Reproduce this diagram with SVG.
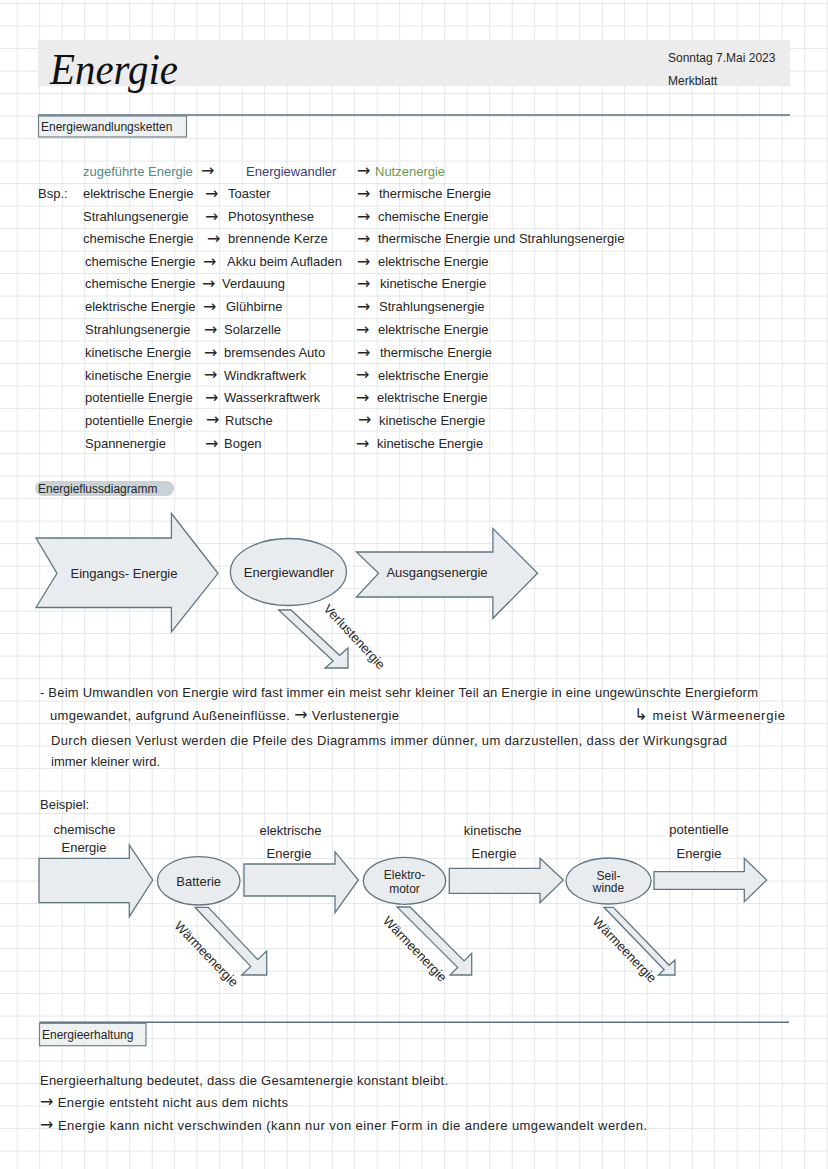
<svg xmlns="http://www.w3.org/2000/svg" width="828" height="1169" viewBox="0 0 828 1169">
<defs>
<pattern id="grid" patternUnits="userSpaceOnUse" x="16.7" y="3.1" width="22.5" height="22.5">
<path d="M0 0.5H22.5M0.5 0V22.5" stroke="#e4e6e8" stroke-width="1" fill="none"/>
</pattern>
<style>
.t{font-family:"Liberation Sans","DejaVu Sans",sans-serif;font-size:13px;fill:#262626}
.s{font-size:12px}
.c{text-anchor:middle}
.a{font-family:"DejaVu Sans",sans-serif;font-size:16px}
.shape{fill:#e9ecee;stroke:#5f7784;stroke-width:1.3;stroke-linejoin:miter}
.box{fill:#eef1f2;stroke:#6f818b;stroke-width:1.2}
.rule{stroke:#5b707b;stroke-width:1.5}
.teal{fill:#4d8c89}
.purple{fill:#3d4079}
.green{fill:#6b9a52}
</style>
</defs>
<rect width="828" height="1169" fill="#ffffff"/>
<rect width="828" height="1169" fill="url(#grid)"/>

<g id="header">
<rect x="38" y="40" width="752" height="46" fill="#ececec"/>
<text x="50" y="84" style="font-family:'Liberation Serif',serif;font-style:italic;font-size:44px;fill:#111" textLength="128" lengthAdjust="spacingAndGlyphs">Energie</text>
<text class="t s" x="668" y="62">Sonntag 7.Mai 2023</text>
<text class="t s" x="668" y="85">Merkblatt</text>
<line class="rule" x1="38" y1="115" x2="790" y2="115"/>
</g>

<g id="section-wandlungsketten">
<rect class="box" x="38.5" y="116" width="148" height="21"/>
<text class="t s" x="41" y="131">Energiewandlungsketten</text>
</g>

<g id="table">
<text class="t teal" x="83" y="175.5">zugeführte Energie</text>
<text class="t a" x="201" y="176">→</text>
<text class="t purple" x="246" y="175.5">Energiewandler</text>
<text class="t a" x="357" y="176">→</text>
<text class="t green" x="375" y="175.5">Nutzenergie</text>

<text class="t" x="38" y="198">Bsp.:</text>
<text class="t" x="83" y="198">elektrische Energie</text><text class="t a" x="205" y="198.5">→</text><text class="t" x="228" y="198">Toaster</text><text class="t a" x="357" y="198.5">→</text><text class="t" x="379" y="198">thermische Energie</text>
<text class="t" x="83" y="221">Strahlungsenergie</text><text class="t a" x="205" y="221.5">→</text><text class="t" x="228" y="221">Photosynthese</text><text class="t a" x="357" y="221.5">→</text><text class="t" x="378" y="221">chemische Energie</text>
<text class="t" x="83" y="243">chemische Energie</text><text class="t a" x="207" y="243.5">→</text><text class="t" x="228" y="243">brennende Kerze</text><text class="t a" x="357" y="243.5">→</text><text class="t" x="378" y="243">thermische Energie und Strahlungsenergie</text>
<text class="t" x="85" y="266">chemische Energie</text><text class="t a" x="203" y="266.5">→</text><text class="t" x="227" y="266">Akku beim Aufladen</text><text class="t a" x="357" y="266.5">→</text><text class="t" x="378" y="266">elektrische Energie</text>
<text class="t" x="85" y="288">chemische Energie</text><text class="t a" x="202" y="288.5">→</text><text class="t" x="222" y="288">Verdauung</text><text class="t a" x="357" y="288.5">→</text><text class="t" x="380" y="288">kinetische Energie</text>
<text class="t" x="85" y="311">elektrische Energie</text><text class="t a" x="203" y="311.5">→</text><text class="t" x="226" y="311">Glühbirne</text><text class="t a" x="357" y="311.5">→</text><text class="t" x="379" y="311">Strahlungsenergie</text>
<text class="t" x="85" y="334">Strahlungsenergie</text><text class="t a" x="204" y="334.5">→</text><text class="t" x="224" y="334">Solarzelle</text><text class="t a" x="356" y="334.5">→</text><text class="t" x="378" y="334">elektrische Energie</text>
<text class="t" x="85" y="357">kinetische Energie</text><text class="t a" x="204" y="357.5">→</text><text class="t" x="224" y="357">bremsendes Auto</text><text class="t a" x="357" y="357.5">→</text><text class="t" x="380" y="357">thermische Energie</text>
<text class="t" x="85" y="379.5">kinetische Energie</text><text class="t a" x="204" y="380">→</text><text class="t" x="224" y="379.5">Windkraftwerk</text><text class="t a" x="356" y="380">→</text><text class="t" x="378" y="379.5">elektrische Energie</text>
<text class="t" x="85" y="402">potentielle Energie</text><text class="t a" x="205" y="402.5">→</text><text class="t" x="224" y="402">Wasserkraftwerk</text><text class="t a" x="356" y="402.5">→</text><text class="t" x="377" y="402">elektrische Energie</text>
<text class="t" x="85" y="424.5">potentielle Energie</text><text class="t a" x="206" y="425">→</text><text class="t" x="225" y="424.5">Rutsche</text><text class="t a" x="358" y="425">→</text><text class="t" x="379" y="424.5">kinetische Energie</text>
<text class="t" x="85" y="448">Spannenergie</text><text class="t a" x="205" y="448.5">→</text><text class="t" x="224" y="448">Bogen</text><text class="t a" x="356" y="448.5">→</text><text class="t" x="377" y="448">kinetische Energie</text>
</g>

<g id="section-flussdiagramm">
<rect x="35" y="481" width="139" height="15" rx="7.5" fill="#c8d2d7"/>
<text class="t s" x="38" y="493">Energieflussdiagramm</text>
</g>

<g id="node-eingang">
<polygon class="shape" points="36,538 171.4,538 171.4,513.5 218,573.3 171.4,632 171.4,607.5 36,607.5 57,573.3"/>
<text class="t c" x="124" y="578">Eingangs- Energie</text>
</g>
<g id="node-wandler">
<ellipse class="shape" cx="288.4" cy="572" rx="58" ry="33.5"/>
<text class="t c" x="289" y="577">Energiewandler</text>
</g>
<g id="node-ausgang">
<polygon class="shape" points="356.4,552 492.9,552 492.9,528.5 537.5,573.3 492.9,618.3 492.9,597 356.4,597 378.6,573.3"/>
<text class="t c" x="437" y="577">Ausgangsenergie</text>
</g>
<g id="node-verlust">
<polygon class="shape" points="278.6,610 291,610 339.6,655.3 348,648 348,668 325,668 333.2,660.9"/>
<text class="t c" transform="translate(354.5,636.5) rotate(47)" dominant-baseline="central">Verlustenergie</text>
</g>

<g id="paragraph">
<text class="t" x="40" y="696.5" textLength="718" lengthAdjust="spacing">- Beim Umwandlen von Energie wird fast immer ein meist sehr kleiner Teil an Energie in eine ungewünschte Energieform</text>
<text class="t" x="50" y="720" textLength="349" lengthAdjust="spacing">umgewandet, aufgrund Außeneinflüsse. <tspan class="a">→</tspan> Verlustenergie</text>
<text class="t" x="634" y="720" textLength="151" lengthAdjust="spacing"><tspan class="a">↳</tspan> meist Wärmeenergie</text>
<text class="t" x="51" y="744.5" textLength="676" lengthAdjust="spacing">Durch diesen Verlust werden die Pfeile des Diagramms immer dünner, um darzustellen, dass der Wirkungsgrad</text>
<text class="t" x="51" y="765.5">immer kleiner wird.</text>
</g>

<g id="beispiel-label">
<text class="t" x="40" y="809">Beispiel:</text>
</g>

<g id="ex-chemisch">
<polygon class="shape" points="39,858.3 129.3,858.3 129.3,845 152.7,880 129.3,916.7 129.3,902.7 39,902.7"/>
<text class="t c" x="84.5" y="833.5">chemische</text>
<text class="t c" x="84" y="851.5">Energie</text>
</g>
<g id="ex-batterie">
<ellipse class="shape" cx="198.7" cy="880.8" rx="41.3" ry="24.2"/>
<text class="t c" x="198.7" y="885.5">Batterie</text>
</g>
<g id="ex-elektrisch">
<polygon class="shape" points="244,864 335,864 335,851.7 358.3,880 335,912.7 335,896 244,896"/>
<text class="t c" x="290.5" y="834.5">elektrische</text>
<text class="t c" x="289" y="857.5">Energie</text>
</g>
<g id="ex-motor">
<ellipse class="shape" cx="404.5" cy="880.8" rx="41.2" ry="23.5"/>
<text class="t c s" x="404.5" y="879">Elektro-</text>
<text class="t c s" x="404.5" y="892.5">motor</text>
</g>
<g id="ex-kinetisch">
<polygon class="shape" points="449.3,868.3 540,868.3 540,858.3 563.3,880 540,902.7 540,893.3 449.3,893.3"/>
<text class="t c" x="492.7" y="835">kinetische</text>
<text class="t c" x="494" y="857.5">Energie</text>
</g>
<g id="ex-seilwinde">
<ellipse class="shape" cx="608.5" cy="881" rx="42.5" ry="23"/>
<text class="t c s" x="608.5" y="880">Seil-</text>
<text class="t c s" x="608.5" y="892">winde</text>
</g>
<g id="ex-potentiell">
<polygon class="shape" points="654,871.7 744.3,871.7 744.3,858.3 766.7,880 744.3,901.7 744.3,889.3 654,889.3"/>
<text class="t c" x="699" y="833.5">potentielle</text>
<text class="t c" x="699" y="857.5">Energie</text>
</g>

<g id="connectors">
<g id="loss-batterie">
<polygon class="shape" points="195,907.3 208.3,907.3 257.7,959.7 266.7,951 266.7,975 241.7,975 250.7,966.4"/>
<text class="t c" transform="translate(206.5,954) rotate(46)" dominant-baseline="central">Wärmeenergie</text>
</g>
<g id="loss-motor">
<polygon class="shape" points="397,907 410,907 464.1,960.9 471.7,953.3 471.7,975 450,975 457.6,967.4"/>
<text class="t c" transform="translate(415,949) rotate(46)" dominant-baseline="central">Wärmeenergie</text>
</g>
<g id="loss-seilwinde">
<polygon class="shape" points="604,907.3 613.3,907.3 669.2,965.3 675,960 675,975 658.3,975 664.2,969.7"/>
<text class="t c" transform="translate(624.7,949.7) rotate(46)" dominant-baseline="central">Wärmeenergie</text>
</g>
</g>

<g id="section-erhaltung">
<line class="rule" x1="39.5" y1="1022.3" x2="789" y2="1022.3"/>
<rect class="box" x="39.5" y="1023.3" width="106.5" height="22.4"/>
<text class="t s" x="42" y="1039">Energieerhaltung</text>
<text class="t" x="40" y="1085" textLength="408" lengthAdjust="spacing">Energieerhaltung bedeutet, dass die Gesamtenergie konstant bleibt.</text>
<text class="t" x="40" y="1107" textLength="248" lengthAdjust="spacing"><tspan class="a">→</tspan> Energie entsteht nicht aus dem nichts</text>
<text class="t" x="40" y="1130" textLength="607" lengthAdjust="spacing"><tspan class="a">→</tspan> Energie kann nicht verschwinden  (kann nur von einer Form in die andere umgewandelt werden.</text>
</g>
</svg>
